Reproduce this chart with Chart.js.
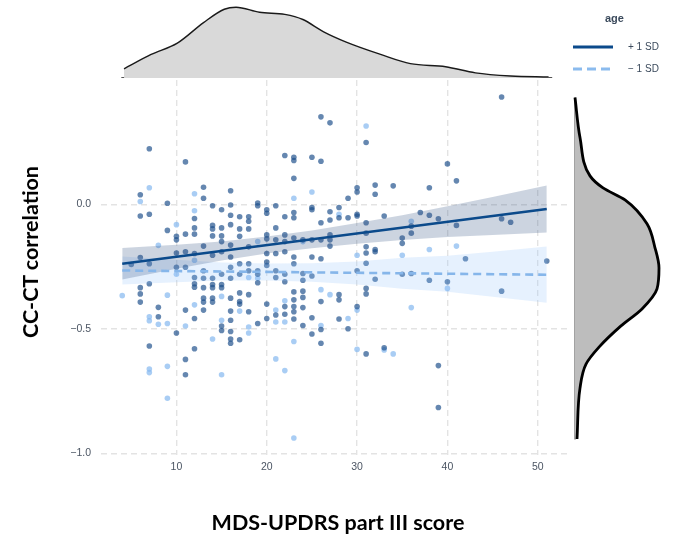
<!DOCTYPE html>
<html>
<head>
<meta charset="utf-8">
<script src="https://cdn.jsdelivr.net/npm/chart.js@4.4.1/dist/chart.umd.min.js"></script>
<style>
  body { margin: 0; background: #fff; }
  #wrap { position: relative; width: 673px; height: 537px; overflow: hidden; background: #fff; }
  #wrap canvas { position: absolute; }
  .title { position: absolute; font-family: Lato, "Open Sans", sans-serif; font-weight: 700; color: #000; white-space: nowrap; }
  #ytitle { left: 30px; top: 252px; font-size: 21.5px; transform: translate(-50%, -50%) rotate(-90deg); }
  #xtitle { left: 338px; top: 522px; font-size: 21.5px; transform: translate(-50%, -50%); }
  #legend { position: absolute; left: 570px; top: 8px; width: 100px; font-family: "Liberation Sans", Arial, sans-serif; font-size: 10px; color: #3b4a5c; }
  #legend .head { position: absolute; left: 35px; top: 4px; font-weight: 700; font-size: 11px; }
  #legend .row { position: absolute; left: 0; height: 14px; }
  #legend svg { position: absolute; left: 2px; top: 2px; }
  #legend span { position: absolute; left: 58px; top: 1px; white-space: nowrap; }
</style>
</head>
<body>
<div id="wrap">
  <canvas id="topDens" width="467" height="78" style="left:101px; top:0px;"></canvas>
  <canvas id="main" width="673" height="537" style="left:0; top:0;"></canvas>
  <canvas id="rightDens" width="103" height="376" style="left:570px; top:80px;"></canvas>
  <div class="title" id="ytitle">CC-CT correlation</div>
  <div class="title" id="xtitle">MDS-UPDRS part III score</div>
  <div id="legend">
    <div class="head">age</div>
    <div class="row" style="top:32px;">
      <svg width="44" height="10"><line x1="1" y1="5" x2="41" y2="5" stroke="#0b4a8b" stroke-width="3"/></svg>
      <span>+ 1 SD</span>
    </div>
    <div class="row" style="top:54px;">
      <svg width="44" height="10"><line x1="1" y1="5" x2="41" y2="5" stroke="#8bbbee" stroke-width="3" stroke-dasharray="9,5"/></svg>
      <span>&minus; 1 SD</span>
    </div>
  </div>
</div>
<script>
// axis ticks
const xTicks = [10, 20, 30, 40, 50];
const yTicks = [-1.0, -0.5, 0.0];

// points, older participants (darker) [score, correlation]
const olderPts = [
  [5,-0.241],
  [6,0.039],[6,-0.046],[6,-0.213],[6,-0.334],[6,-0.359],[6,-0.392],
  [7,0.224],[7,-0.039],[7,-0.238],[7,-0.318],[7,-0.568],
  [8,-0.413],[8,-0.451],
  [9,0.005],[9,-0.104],
  [10,-0.128],[10,-0.142],[10,-0.195],[10,-0.252],[10,-0.516],
  [11,0.171],[11,-0.119],[11,-0.190],[11,-0.252],[11,-0.424],[11,-0.622],[11,-0.684],
  [12,-0.056],[12,-0.094],[12,-0.119],[12,-0.197],[12,-0.293],[12,-0.318],[12,-0.332],[12,-0.458],[12,-0.579],
  [13,0.069],[13,0.025],[13,-0.167],[13,-0.266],[13,-0.296],[13,-0.334],[13,-0.376],[13,-0.392],[13,-0.424],
  [14,-0.005],[14,-0.084],[14,-0.098],[14,-0.126],[14,-0.204],[14,-0.296],[14,-0.321],[14,-0.334],[14,-0.376],[14,-0.392],
  [15,-0.021],[15,-0.094],[15,-0.126],[15,-0.149],[15,-0.190],[15,-0.280],[15,-0.321],[15,-0.334],[15,-0.488],[15,-0.506],
  [16,0.055],[16,-0.002],[16,-0.043],[16,-0.081],[16,-0.163],[16,-0.211],[16,-0.252],[16,-0.296],[16,-0.376],[16,-0.428],[16,-0.465],[16,-0.510],[16,-0.540],[16,-0.557],
  [17,-0.049],[17,-0.098],[17,-0.128],[17,-0.238],[17,-0.280],[17,-0.355],[17,-0.390],[17,-0.400],[17,-0.543],
  [18,-0.049],[18,-0.067],[18,-0.098],[18,-0.170],[18,-0.238],[18,-0.266],[18,-0.362],[18,-0.431],
  [19,0.006],[19,-0.005],[19,-0.266],[19,-0.280],[19,-0.314],[19,-0.478],
  [20,-0.021],[20,-0.035],[20,-0.122],[20,-0.138],[20,-0.197],[20,-0.231],[20,-0.245],[20,-0.400],[20,-0.458],
  [21,-0.005],[21,-0.094],[21,-0.142],[21,-0.197],[21,-0.266],[21,-0.293],[21,-0.444],
  [22,0.197],[22,-0.049],[22,-0.122],[22,-0.149],[22,-0.190],[22,-0.280],[22,-0.310],[22,-0.410],[22,-0.441],
  [23,0.190],[23,0.177],[23,0.105],[23,-0.032],[23,-0.053],[23,-0.135],[23,-0.211],[23,-0.238],[23,-0.351],[23,-0.383],[23,-0.410],[23,-0.431],[23,-0.460],
  [24,-0.142],[24,-0.277],[24,-0.304],[24,-0.348],[24,-0.373],[24,-0.414],[24,-0.486],
  [25,0.190],[25,-0.012],[25,-0.021],[25,-0.142],[25,-0.211],[25,-0.287],[25,-0.455],[25,-0.520],
  [26,0.352],[26,0.174],[26,-0.073],[26,-0.142],[26,-0.218],[26,-0.390],[26,-0.502],[26,-0.557],
  [27,0.328],[27,-0.029],[27,-0.062],[27,-0.122],[27,-0.142],[27,-0.167],
  [28,-0.012],[28,-0.053],[28,-0.362],[28,-0.383],[28,-0.460],
  [29,0.025],[29,-0.053],[29,-0.499],
  [30,0.067],[30,0.050],[30,-0.039],[30,-0.046],[30,-0.266],[30,-0.410],
  [31,0.249],[31,-0.073],[31,-0.115],[31,-0.170],[31,-0.195],[31,-0.236],[31,-0.337],[31,-0.359],[31,-0.600],
  [32,0.078],[32,0.041],[32,-0.181],[32,-0.190],[32,-0.300],
  [33,-0.046],[33,-0.575],
  [34,0.075],
  [35,-0.135],[35,-0.156],[35,-0.280],
  [36,-0.087],[36,-0.115],[36,-0.277],
  [37,-0.032],
  [38,0.067],[38,-0.043],[38,-0.304],
  [39,-0.057],[39,-0.647],[39,-0.815],
  [40,0.163],[40,-0.310],
  [41,0.095],[41,-0.084],
  [42,-0.218],
  [46,0.432],[46,-0.057],[46,-0.348],
  [47,-0.071],
  [51,-0.227]
];

// points, younger participants (lighter)
const youngerPts = [
  [4,-0.366],
  [6,0.012],
  [7,0.067],[7,-0.451],[7,-0.467],[7,-0.661],[7,-0.675],
  [8,-0.164],[8,-0.481],
  [9,-0.364],[9,-0.478],[9,-0.650],[9,-0.778],
  [10,-0.081],[10,-0.280],
  [11,-0.488],
  [12,0.043],[12,-0.025],[12,-0.224],[12,-0.403],
  [14,-0.540],
  [15,-0.369],[15,-0.465],[15,-0.684],
  [17,-0.428],
  [18,-0.293],[18,-0.492],[18,-0.516],
  [19,-0.149],[19,-0.296],
  [21,-0.424],[21,-0.472],[21,-0.620],
  [22,-0.387],[22,-0.472],[22,-0.667],
  [23,0.025],[23,-0.550],[23,-0.938],
  [24,-0.149],
  [25,0.050],
  [26,-0.342],[26,-0.486],
  [27,-0.362],
  [28,-0.039],
  [29,-0.458],
  [30,-0.204],[30,-0.424],[30,-0.582],
  [31,0.315],
  [33,-0.584],
  [34,-0.600],
  [35,-0.204],
  [36,-0.067],[36,-0.414],
  [38,-0.181],
  [40,-0.337],
  [41,-0.167]
];

// fitted lines (end points) and confidence bands
const lineHighAge = [[4,-0.238],[51,-0.018]];
const lineLowAge = [[4,-0.265],[51,-0.282]];
const bandX = [4, 10, 15, 20, 25, 30, 35, 40, 45, 51];
const bandHighUpper = [-0.175,-0.162,-0.149,-0.129,-0.104,-0.074,-0.043,-0.007,0.030,0.076];
const bandHighLower = [-0.301,-0.258,-0.225,-0.197,-0.176,-0.158,-0.143,-0.131,-0.122,-0.112];
const bandLowUpper = [-0.209,-0.222,-0.233,-0.237,-0.236,-0.229,-0.214,-0.206,-0.190,-0.169];
const bandLowLower = [-0.321,-0.312,-0.305,-0.305,-0.310,-0.321,-0.338,-0.350,-0.370,-0.395];

// marginal densities (relative heights)
const topDensX = [4.2, 7.2, 10.1, 13, 15.3, 16.6, 19.2, 22, 24, 26.3, 28.8, 32.6, 35.9, 39.8, 43.1, 47, 51.2];
const topDensH = [9, 23, 34, 54, 67, 69, 64, 62, 57, 45, 35, 23, 14, 11, 5, 2, 1];
const rightDensY = [-0.938, -0.734, -0.638, -0.570, -0.485, -0.417, -0.337, -0.253, -0.172, -0.076, 0.020, 0.068, 0.116, 0.270, 0.430];
const rightDensW = [2, 5, 11, 24, 46, 67, 82, 84, 80, 72, 50, 28, 15, 5, 0];

const X_MIN = 1.65, X_MAX = 53.35;
const Y_MIN = -1.006, Y_MAX = 0.50;

const toXY = arr => arr.map(p => ({ x: p[0], y: p[1] }));
const band = vals => bandX.map((x, i) => ({ x: x, y: vals[i] }));

Chart.defaults.animation = false;
Chart.defaults.font.family = "'Liberation Sans', Arial, sans-serif";

const mainChart = new Chart(document.getElementById("main"), {
    type: "scatter",
    data: {
        datasets: [
            { data: toXY(lineHighAge), showLine: true, pointRadius: 0, borderColor: "#0b4a8b", borderWidth: 2.6, order: 0 },
            { data: toXY(lineLowAge), showLine: true, pointRadius: 0, borderColor: "#86b6ea", borderWidth: 2.6, borderDash: [8, 5], order: 0 },
            { data: band(bandHighUpper), showLine: true, pointRadius: 0, borderWidth: 0, fill: "+1", backgroundColor: "rgba(50,85,130,0.25)", order: 1 },
            { data: band(bandHighLower), showLine: true, pointRadius: 0, borderWidth: 0, order: 1 },
            { data: band(bandLowUpper), showLine: true, pointRadius: 0, borderWidth: 0, fill: "+1", backgroundColor: "rgba(140,190,250,0.22)", order: 2 },
            { data: band(bandLowLower), showLine: true, pointRadius: 0, borderWidth: 0, order: 2 },
            { data: toXY(olderPts), pointRadius: 2.8, borderWidth: 0, backgroundColor: "rgba(28,78,138,0.68)", order: 3 },
            { data: toXY(youngerPts), pointRadius: 2.8, borderWidth: 0, backgroundColor: "rgba(136,186,240,0.72)", order: 3 }
        ]
    },
    options: {
        responsive: false,
        layout: { padding: { left: 0, top: 80, right: 105, bottom: 52 } },
        plugins: { legend: { display: false }, tooltip: { enabled: false } },
        scales: {
            x: {
                type: "linear", min: X_MIN, max: X_MAX,
                afterBuildTicks: s => { s.ticks = xTicks.map(v => ({ value: v })); },
                afterFit: s => { s.height = 30; },
                grid: { color: "#e3e3e3", lineWidth: 1.4, drawTicks: false },
                border: { display: false, dash: [6, 4] },
                ticks: { color: "#4b5563", font: { size: 10.5 }, padding: 6 }
            },
            y: {
                type: "linear", min: Y_MIN, max: Y_MAX,
                afterBuildTicks: s => { s.ticks = yTicks.map(v => ({ value: v })); },
                afterFit: s => { s.width = 101; },
                grid: { color: "#e3e3e3", lineWidth: 1.4, drawTicks: false },
                border: { display: false, dash: [6, 4] },
                ticks: {
                    color: "#4b5563", font: { size: 10.5 }, padding: 10,
                    callback: v => (v < 0 ? "\u2212" : "") + Math.abs(v).toFixed(1)
                }
            }
        }
    }
});

const topChart = new Chart(document.getElementById("topDens"), {
    type: "line",
    data: {
        datasets: [
            {
                data: topDensX.map((x, i) => ({ x: x, y: topDensH[i] })),
                fill: "origin", backgroundColor: "#d9d9d9", borderColor: "#1a1a1a",
                borderWidth: 1.4, pointRadius: 0, cubicInterpolationMode: "monotone"
            },
            {
                data: [{ x: 3.9, y: 0 }, { x: 51.6, y: 0 }],
                borderColor: "#1a1a1a", borderWidth: 1.6, pointRadius: 0
            }
        ]
    },
    options: {
        responsive: false,
        layout: { padding: 0 },
        plugins: { legend: { display: false }, tooltip: { enabled: false } },
        scales: {
            x: { type: "linear", min: X_MIN, max: X_MAX, display: false },
            y: { type: "linear", min: 0, max: 76, display: false }
        }
    }
});

const rightChart = new Chart(document.getElementById("rightDens"), {
    type: "line",
    data: {
        datasets: [
            {
                data: rightDensY.map((y, i) => ({ x: rightDensW[i], y: y })),
                fill: "origin", backgroundColor: "#bdbdbd", borderColor: "#000",
                borderWidth: 2.8, pointRadius: 0, cubicInterpolationMode: "monotone"
            },
            {
                data: [{ x: 0, y: -0.94 }, { x: 0, y: 0.43 }],
                borderColor: "#444", borderWidth: 1, pointRadius: 0
            }
        ]
    },
    options: {
        responsive: false,
        indexAxis: "y",
        layout: { padding: 0 },
        plugins: { legend: { display: false }, tooltip: { enabled: false } },
        scales: {
            x: { type: "linear", min: -5, max: 98, display: false },
            y: { type: "linear", min: Y_MIN, max: Y_MAX, display: false }
        }
    }
});
</script>
</body>
</html>
